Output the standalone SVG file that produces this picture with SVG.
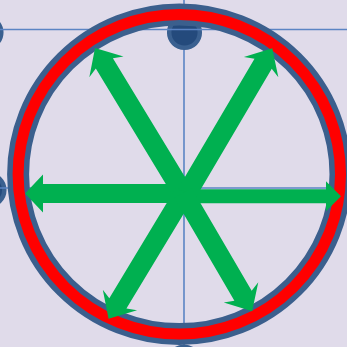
<svg xmlns="http://www.w3.org/2000/svg" width="347" height="347" viewBox="0 0 347 347">
  <style>
    .grid{stroke:#5b84c4;stroke-width:1.6;fill:none}
    .dot{fill:#244a7c;stroke:#3a6090;stroke-width:4.5}
    .ringb{fill:none;stroke:#3b5f8d;stroke-width:22}
    .ringr{fill:none;stroke:#ff0000;stroke-width:11}
    .arr{fill:#00b050}
  </style>
  <rect width="347" height="347" fill="#e0dbea"/>
  <line class="grid" x1="184" y1="0" x2="184" y2="347"/>
  <g id="dot-top"><circle class="dot" cx="184.5" cy="32.5" r="15.3"/></g>
  <g id="dot-topleft"><circle class="dot" cx="-14" cy="32.5" r="15.3"/></g>
  <g id="dot-left"><circle class="dot" cx="-11" cy="190" r="15.3"/></g>
  <g id="dot-bottom"><circle class="dot" cx="184" cy="362" r="15.3"/></g>
  <line class="grid" x1="0" y1="29.5" x2="347" y2="29.5"/>
  <line class="grid" x1="0" y1="188" x2="347" y2="188"/>
  <g id="ring">
    <ellipse class="ringb" cx="179.3" cy="174.3" rx="161.2" ry="159.8"/>
    <ellipse class="ringr" cx="179.3" cy="174.3" rx="161.2" ry="159.8"/>
  </g>
  <g id="connectors">
    <polygon class="arr" transform="translate(183,193.5) rotate(180)" points="0,-9.5 140,-9.5 140,-19 158,0 140,19 140,9.5 0,9.5"/>
    <polygon class="arr" transform="translate(183,196.3)" points="0,-7 143,-7 143,-15 158,0 143,15 143,7 0,7"/>
    <polygon class="arr" transform="translate(183,193) rotate(-121.25)" points="0,-10 151.6,-10 147.6,-20 169.6,0 147.6,20 151.6,10 0,10"/>
    <polygon class="arr" transform="translate(187,193) rotate(-59.5)" points="0,-10 150,-10 146,-20 168,0 146,20 150,10 0,10"/>
    <polygon class="arr" transform="translate(184.5,193) rotate(121.1)" points="0,-10 129,-10 125,-20 147,0 125,20 129,10 0,10"/>
    <polygon class="arr" transform="translate(183,193) rotate(59.7)" points="0,-10 119,-10 115,-20 137,0 115,20 119,10 0,10"/>
  </g>
</svg>
